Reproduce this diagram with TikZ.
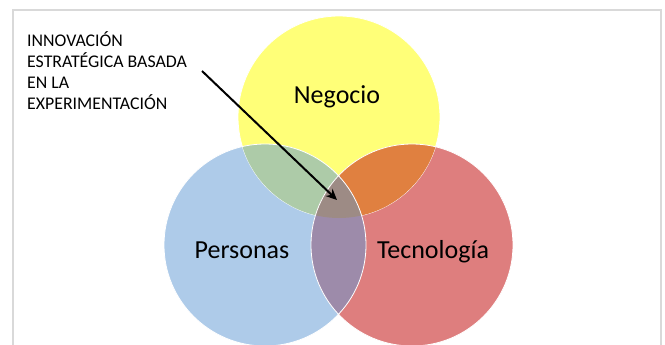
\documentclass[tikz,border=0pt]{standalone}
\usepackage{fontspec}
\setmainfont{Carlito}
\usepackage{tikz}
\usetikzlibrary{positioning,arrows.meta}

\definecolor{negfill}{RGB}{255,255,120}
\definecolor{perfill}{RGB}{174,203,233}
\definecolor{tecfill}{RGB}{222,126,126}
\definecolor{npfill}{RGB}{173,203,168}
\definecolor{ntfill}{RGB}{224,128,64}
\definecolor{ptfill}{RGB}{157,139,170}
\definecolor{allfill}{RGB}{157,139,133}
\definecolor{framegray}{RGB}{217,217,217}

\def\vennr{101}

\begin{document}
\begin{tikzpicture}[x=1pt, y=-1pt,
    venn/.style={circle, minimum size=202pt, inner sep=0pt},
    rim/.style={draw=white, line width=0.8pt},
    word/.style={font=\fontsize{26}{31}\selectfont, inner sep=0pt, anchor=base}]
          \useasboundingbox (0,0) rectangle (665,345);
          \draw[framegray, line width=2pt] (13,10) rectangle (661,370);

          \node[venn, fill=negfill] (neg) at (339,117) {};
          \node[venn, fill=perfill] (per) at (265,245) {};
          \node[venn, fill=tecfill] (tec) at (412,245) {};
          \draw[rim] (neg.center) circle[radius=\vennr];

          % overlaps
          \begin{scope}
            \clip (neg.center) circle[radius=\vennr];
            \fill[npfill] (per.center) circle[radius=\vennr];
            \fill[ntfill] (tec.center) circle[radius=\vennr];
          \end{scope}
          \begin{scope}
            \clip (per.center) circle[radius=\vennr];
            \fill[ptfill] (tec.center) circle[radius=\vennr];
            \clip (neg.center) circle[radius=\vennr];
            \fill[allfill] (tec.center) circle[radius=\vennr];
          \end{scope}
          \draw[rim] (per.center) circle[radius=\vennr];
          \draw[rim] (tec.center) circle[radius=\vennr];

          \node[word] (negl) at (337,103) {Negocio};
          \node[word] (perl) at (242,258) {Personas};
          \node[word] (tecl) at (433,258) {Tecnología};

          \node[anchor=north west, inner sep=0pt, align=left,
                font=\fontsize{17.8}{21.3}\selectfont] (idea) at (27,31)
                {INNOVACIÓN\\ESTRATÉGICA BASADA\\EN LA\\EXPERIMENTACIÓN};

          \coordinate (tail) at (202,71);
          \coordinate (tip) at (337,200);
          \draw[-{Stealth[length=11pt, width=10pt]}, line width=2pt] (tail) -- (tip);
        \end{tikzpicture}
\end{document}
